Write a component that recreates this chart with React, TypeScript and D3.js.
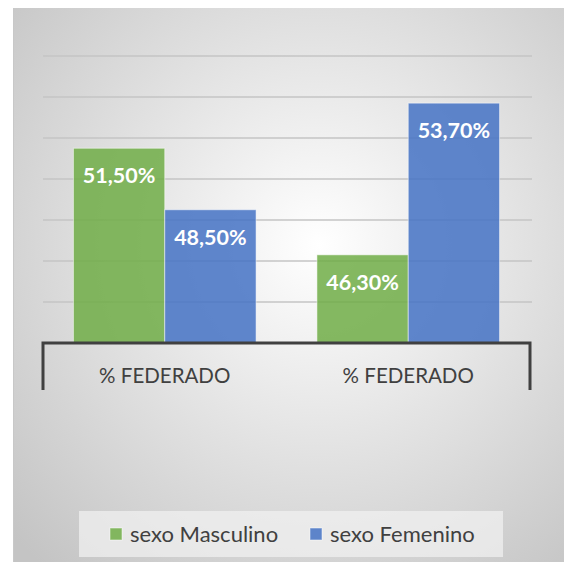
import React, { useEffect, useRef } from "react";
import * as d3 from "d3";

const categories = ["% FEDERADO", "% FEDERADO"];
const seriesNames = ["sexo Masculino", "sexo Femenino"];
const masculino = [51.5, 46.3];
const femenino = [48.5, 53.7];
const gridTicks = [44, 46, 48, 50, 52, 54, 56];
const colors = ["#70ad47", "#4472c4"];

const W = 572;
const H = 570;

const App = () => {
  const ref = useRef<SVGSVGElement>(null);

  useEffect(() => {
    const svg = d3.select(ref.current);
    svg.selectAll("*").remove();

    const font = "Lato, 'Open Sans', sans-serif";
    const plot = { left: 43, right: 530, top: 56, bottom: 343 };

    const defs = svg.append("defs");
    const grad = defs
      .append("radialGradient")
      .attr("id", "bg")
      .attr("cx", "55%")
      .attr("cy", "42%")
      .attr("r", "75%");
    grad.append("stop").attr("offset", "0%").attr("stop-color", "#ffffff");
    grad.append("stop").attr("offset", "100%").attr("stop-color", "#c4c4c4");

    // frame
    svg.append("rect").attr("width", W).attr("height", H).attr("fill", "#ffffff");
    svg
      .append("rect")
      .attr("x", 13.5)
      .attr("y", 5.5)
      .attr("width", 555)
      .attr("height", 570)
      .attr("fill", "url(#bg)")
      .attr("stroke", "#c8c8c8")
      .attr("stroke-width", 1);

    const x0 = d3
      .scaleBand<number>()
      .domain(categories.map((_, i) => i))
      .range([plot.left, plot.right])
      .paddingInner(0.25)
      .paddingOuter(0.125);

    const x1 = d3
      .scaleBand<number>()
      .domain([0, 1])
      .range([0, x0.bandwidth()]);

    const y = d3.scaleLinear().domain([42, 56]).range([plot.bottom, plot.top]);

    // gridlines
    svg
      .append("g")
      .selectAll("line")
      .data(gridTicks)
      .join("line")
      .attr("x1", plot.left)
      .attr("x2", plot.right + 2)
      .attr("y1", (d) => y(d))
      .attr("y2", (d) => y(d))
      .attr("stroke", "#c4c4c4")
      .attr("stroke-width", 1.5);

    const bars = categories.flatMap((_, ci) => [
      { ci, si: 0, v: masculino[ci] },
      { ci, si: 1, v: femenino[ci] },
    ]);

    const g = svg.append("g");
    g.selectAll("rect")
      .data(bars)
      .join("rect")
      .attr("x", (d) => x0(d.ci)! + x1(d.si)!)
      .attr("y", (d) => y(d.v))
      .attr("width", x1.bandwidth())
      .attr("height", (d) => y(42) - y(d.v))
      .attr("fill", (d) => colors[d.si])
      .attr("fill-opacity", 0.85)
      .attr("stroke", "#ffffff")
      .attr("stroke-opacity", 0.5)
      .attr("stroke-width", 1);

    g.selectAll("text")
      .data(bars)
      .join("text")
      .attr("x", (d) => x0(d.ci)! + x1(d.si)! + x1.bandwidth() / 2)
      .attr("y", (d) => y(d.v) + 35)
      .attr("text-anchor", "middle")
      .attr("fill", "#ffffff")
      .attr("font-family", font)
      .attr("font-weight", "bold")
      .attr("font-size", 21.5)
      .text((d) => d.v.toFixed(2).replace(".", ",") + "%");

    // category axis
    svg
      .append("path")
      .attr("d", `M${plot.left},390V${plot.bottom}H${plot.right}V390`)
      .attr("fill", "none")
      .attr("stroke", "#404040")
      .attr("stroke-width", 3);

    svg
      .append("g")
      .selectAll("text")
      .data(categories)
      .join("text")
      .attr("x", (_, i) => x0(i)! + x0.bandwidth() / 2)
      .attr("y", 383)
      .attr("text-anchor", "middle")
      .attr("fill", "#404040")
      .attr("font-family", font)
      .attr("font-size", 20.5)
      .text((d) => d);

    // legend
    const lg = svg.append("g");
    lg.append("rect")
      .attr("x", 79)
      .attr("y", 511)
      .attr("width", 424)
      .attr("height", 46)
      .attr("fill", "#f2f2f2")
      .attr("fill-opacity", 0.7);
    const legendX = [110, 310];
    seriesNames.forEach((name, i) => {
      lg.append("rect")
        .attr("x", legendX[i])
        .attr("y", 528)
        .attr("width", 12)
        .attr("height", 12)
        .attr("fill", colors[i])
        .attr("fill-opacity", 0.85)
        .attr("stroke", "#ffffff")
        .attr("stroke-opacity", 0.5);
      lg.append("text")
        .attr("x", legendX[i] + 20)
        .attr("y", 542)
        .attr("fill", "#404040")
        .attr("font-family", font)
        .attr("font-size", 22)
        .text(name);
    });
  }, []);

  return <svg ref={ref} width={W} height={H} style={{ display: "block", margin: -8 }} />;
};

export default App;
